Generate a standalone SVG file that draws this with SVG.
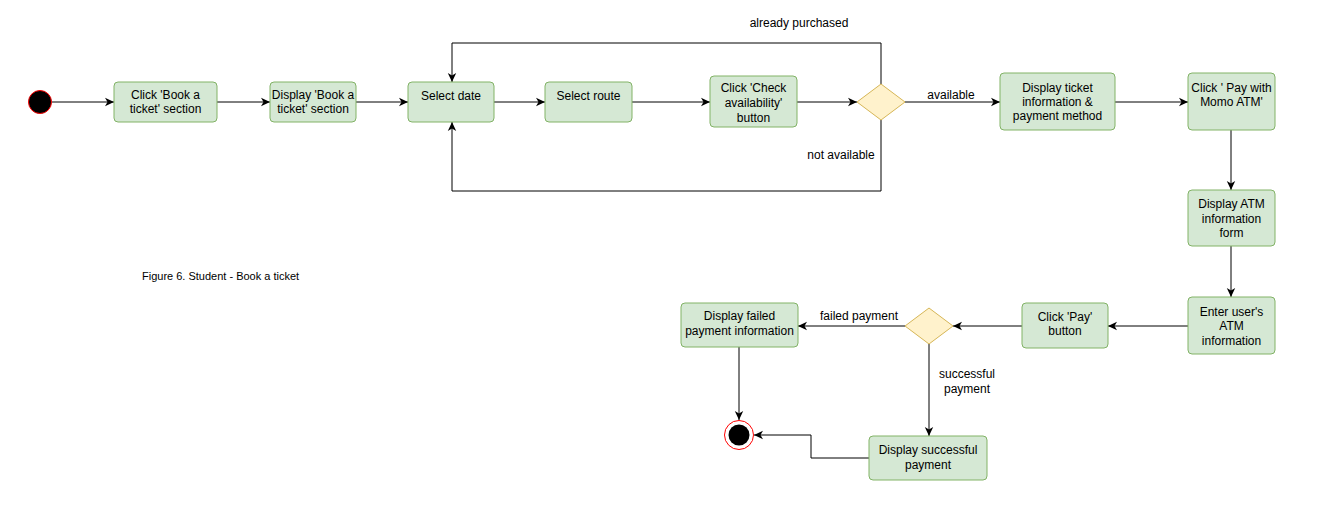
<svg xmlns="http://www.w3.org/2000/svg" width="1341" height="516" viewBox="0 0 1341 516">
<style>
.n{fill:#d5e8d4;stroke:#82b366;stroke-width:1}
.d{fill:#fff2cc;stroke:#d6b656;stroke-width:1}
.t{font-family:"Liberation Sans",Arial,sans-serif;font-size:12px;fill:#000;text-anchor:middle}
.l{font-family:"Liberation Sans",Arial,sans-serif;font-size:12px;fill:#000;text-anchor:middle}
.c{fill:none;stroke:#000;stroke-width:1}
</style>
<defs>
<marker id="a" viewBox="0 0 10 10" refX="9" refY="5" markerWidth="10" markerHeight="10" markerUnits="userSpaceOnUse" orient="auto">
<path d="M0,0.8 L9,5 L0,9.2 L2.5,5 z" fill="#000"/>
</marker>
</defs>
<rect width="1341" height="516" fill="#fff"/>
<g id="connectors">
<path class="c" marker-end="url(#a)" d="M52,102 L114,102"/>
<path class="c" marker-end="url(#a)" d="M217,102 L270,102"/>
<path class="c" marker-end="url(#a)" d="M356,102 L408,102"/>
<path class="c" marker-end="url(#a)" d="M494,102 L545,102"/>
<path class="c" marker-end="url(#a)" d="M632,102 L710,102"/>
<path class="c" marker-end="url(#a)" d="M797,102 L857,102"/>
<path class="c" marker-end="url(#a)" d="M905,102 L1000,102"/>
<path class="c" marker-end="url(#a)" d="M1115,102 L1188,102"/>
<path class="c" marker-end="url(#a)" d="M881,84 L881,43 L452,43 L452,82"/>
<path class="c" marker-end="url(#a)" d="M881,120 L881,191 L452,191 L452,122"/>
<path class="c" marker-end="url(#a)" d="M1231,130 L1231,190"/>
<path class="c" marker-end="url(#a)" d="M1231,246 L1231,297"/>
<path class="c" marker-end="url(#a)" d="M1188,326 L1108,326"/>
<path class="c" marker-end="url(#a)" d="M1022,326 L953,326"/>
<path class="c" marker-end="url(#a)" d="M905,326 L798,326"/>
<path class="c" marker-end="url(#a)" d="M929,344 L929,436"/>
<path class="c" marker-end="url(#a)" d="M739,347 L739,420"/>
<path class="c" marker-end="url(#a)" d="M869,458 L811,458 L811,435 L754,435"/>
<text class="l" x="799" y="27">already purchased</text>
<text class="l" x="841" y="159">not available</text>
<text class="l" x="951" y="99">available</text>
<text class="l" x="859" y="320">failed payment</text>
<text class="l" x="967" y="378">successful</text>
<text class="l" x="967" y="393">payment</text>
</g>
<g id="start"><circle cx="40" cy="102" r="11.5" fill="#000" stroke="#ff0000" stroke-width="1"/></g>
<g id="n1"><rect class="n" x="114" y="82" width="103" height="40" rx="4"/><text class="t" x="165.5" y="99">Click 'Book a</text><text class="t" x="165.5" y="113">ticket' section</text></g>
<g id="n2"><rect class="n" x="270" y="82" width="86" height="40" rx="4"/><text class="t" x="313" y="99">Display 'Book a</text><text class="t" x="313" y="113">ticket' section</text></g>
<g id="n3"><rect class="n" x="408" y="82" width="86" height="40" rx="4"/><text class="t" x="451" y="100">Select date</text></g>
<g id="n4"><rect class="n" x="545" y="82" width="87" height="40" rx="4"/><text class="t" x="588.5" y="100">Select route</text></g>
<g id="n5"><rect class="n" x="710" y="76" width="87" height="51" rx="4"/><text class="t" x="753.5" y="92">Click 'Check</text><text class="t" x="753.5" y="107">availability'</text><text class="t" x="753.5" y="122">button</text></g>
<g id="dec1"><path class="d" d="M881,84 L905,102 L881,120 L857,102 z"/></g>
<g id="n6"><rect class="n" x="1000" y="73" width="115" height="57" rx="4"/><text class="t" x="1057.5" y="92">Display ticket</text><text class="t" x="1057.5" y="106">information &amp;</text><text class="t" x="1057.5" y="120">payment method</text></g>
<g id="n7"><rect class="n" x="1188" y="73" width="87" height="57" rx="4"/><text class="t" x="1231.5" y="92">Click ' Pay with</text><text class="t" x="1231.5" y="106">Momo ATM'</text></g>
<g id="n8"><rect class="n" x="1188" y="190" width="87" height="56" rx="4"/><text class="t" x="1231.5" y="208">Display ATM</text><text class="t" x="1231.5" y="223">information</text><text class="t" x="1231.5" y="237">form</text></g>
<g id="n9"><rect class="n" x="1188" y="297" width="87" height="57" rx="4"/><text class="t" x="1231.5" y="316">Enter user's</text><text class="t" x="1231.5" y="330">ATM</text><text class="t" x="1231.5" y="345">information</text></g>
<g id="n10"><rect class="n" x="1022" y="303" width="86" height="45" rx="4"/><text class="t" x="1065" y="321">Click 'Pay'</text><text class="t" x="1065" y="335">button</text></g>
<g id="dec2"><path class="d" d="M929,308 L953,326 L929,344 L905,326 z"/></g>
<g id="n11"><rect class="n" x="681" y="303" width="117" height="44" rx="4"/><text class="t" x="739.5" y="320">Display failed</text><text class="t" x="739.5" y="335">payment information</text></g>
<g id="n12"><rect class="n" x="869" y="436" width="118" height="44" rx="4"/><text class="t" x="928" y="454">Display successful</text><text class="t" x="928" y="469">payment</text></g>
<g id="end"><circle cx="739" cy="435" r="14.5" fill="#fff" stroke="#ff0000" stroke-width="1"/><circle cx="739" cy="435" r="10.5" fill="#000"/></g>
<g id="caption"><text x="142" y="280" font-family="'Liberation Sans',Arial,sans-serif" font-size="11px" fill="#000">Figure 6. Student - Book a ticket</text></g>
</svg>
